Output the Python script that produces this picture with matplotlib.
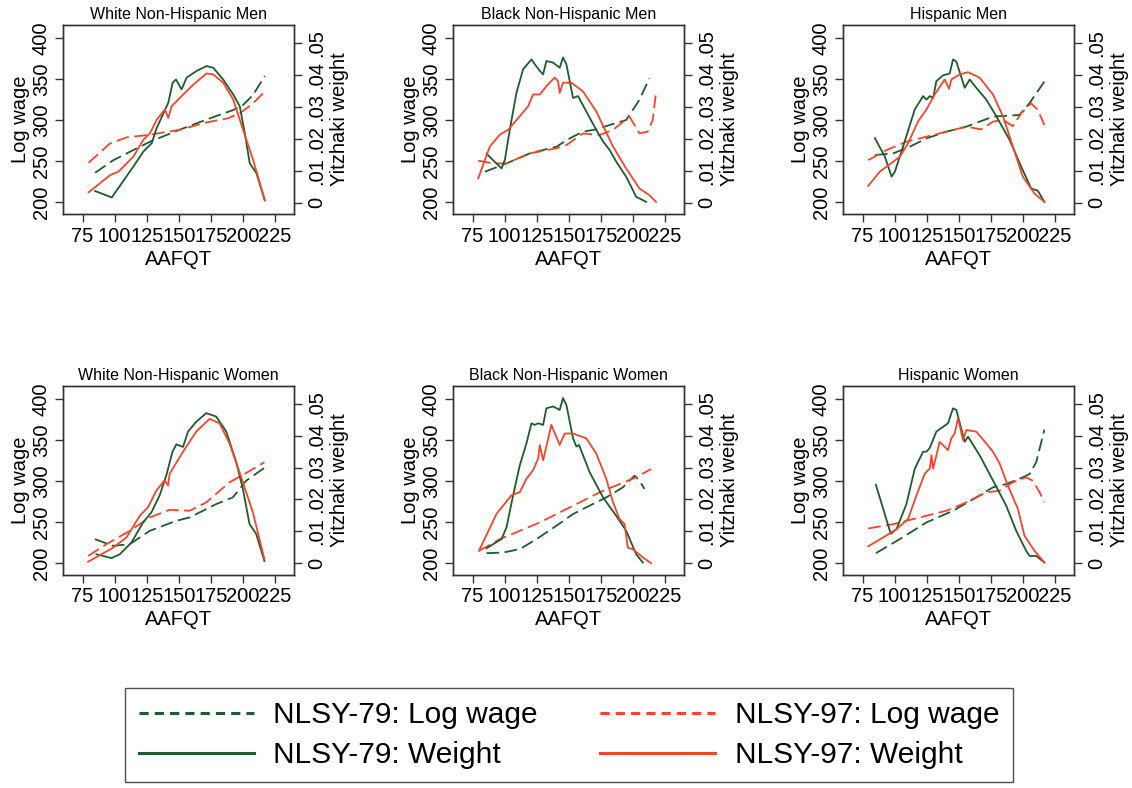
import matplotlib.pyplot as plt
from matplotlib.lines import Line2D

plt.rcParams['font.family'] = ['Liberation Sans', 'DejaVu Sans']

green = '#1d5c2c'
red = '#f2462a'
dash = (0, (7, 3))

titles = ["White Non-Hispanic Men", "Black Non-Hispanic Men", "Hispanic Men",
          "White Non-Hispanic Women", "Black Non-Hispanic Women", "Hispanic Women"]

# (AAFQT, value) pairs; wage -> left axis, weight -> right axis
# White Non-Hispanic Men
wm_wage79 = ([84.8, 99.1, 114.6, 127.6, 150, 174.2, 192.4, 200.1, 207.9, 217],
             [236.2, 251.6, 263.8, 274, 288.2, 302.4, 312.6, 318.7, 330.9, 354])
wm_wage97 = ([79.7, 96.5, 109.5, 125.5, 150, 172, 188.2, 197.5, 207.9, 217],
             [248.4, 272, 279.3, 282.1, 288.2, 297.6, 302.4, 308.5, 320.7, 335])
wm_wt79 = ([84.8, 97.8, 114.6, 122.4, 128.9, 132.8, 141.8, 145.2, 147.8, 152.2, 156.1, 163.9, 171.6,
            176.8, 184.6, 192.4, 197.5, 201.4, 205.3, 210.5, 217],
           [.0036, .0016, .0113, .016, .0186, .0234, .0313, .0376, .0386, .0355, .0392, .0413, .0428,
            .0423, .0386, .0339, .0302, .0218, .0123, .0092, .0007])
wm_wt97 = ([79.7, 96.5, 103, 114.6, 122.4, 127.6, 132.8, 139.2, 141.8, 144.4, 152.2, 161.3, 171.6,
            176.8, 184.6, 192.4, 200.1, 207.9, 217],
           [.0032, .0086, .0097, .0144, .0197, .0218, .026, .0292, .0265, .0302, .0334, .037, .0405,
            .0402, .0376, .0323, .0228, .0134, .0007])

# Black Non-Hispanic Men
bm_wage79 = ([84.6, 101.5, 119.6, 140.3, 150.7, 161, 171.4, 181.8, 194.7, 205, 212.8],
             [237.4, 247.6, 259.8, 267.9, 278, 286.2, 289, 294.3, 300.4, 324.8, 351.2])
bm_wage97 = ([79.4, 91.1, 101.5, 119.6, 140.3, 148.1, 161, 173.9, 184.3, 197.3, 205.1, 211.5, 215.4, 218],
             [250.8, 247.6, 247.6, 259.8, 265.9, 269.9, 284.1, 282.1, 288.2, 304.5, 284.1, 286.2, 300.4, 335])
bm_wt79 = ([85.9, 97.6, 100.2, 104, 109.2, 114.4, 120.9, 123.5, 127.4, 130, 132.5, 137.7, 142.9, 145.5,
            148.1, 153.3, 157.2, 163.6, 171.4, 176.6, 181.8, 187, 194.7, 202.5, 210.3],
           [.0153, .0107, .0134, .0228, .0344, .0418, .0449, .0434, .0413, .0402, .0444, .0439, .0423, .0455,
            .0434, .0328, .0334, .0286, .0228, .0192, .0165, .0128, .0081, .0018, .0002])
bm_wt97 = ([79.4, 88.5, 96.3, 102.7, 111.8, 118.3, 122.2, 127.4, 132.5, 139, 141.6, 142.9, 145.5, 152,
            161, 171.4, 184.4, 194.7, 205.1, 212.8, 218],
           [.0076, .0176, .0213, .0228, .0271, .0302, .0339, .0339, .0365, .0392, .0381, .0344, .0376, .0376,
            .0349, .0286, .0176, .0107, .0044, .0023, .0002])

# Hispanic Men
hm_wage79 = ([84.6, 98.9, 111.8, 124.8, 140.3, 155.9, 166.2, 176.6, 184.4, 197.3, 205, 216.7],
             [257.7, 259.8, 267.9, 278, 286.2, 292.3, 298.4, 304.5, 305.3, 306.5, 320.7, 347.2])
hm_wage97 = ([79.4, 93.7, 109.2, 124.8, 140.3, 155.9, 167.5, 176.6, 184.4, 192.1, 198.6, 206.4, 211.6, 216.7],
             [251.6, 263.8, 274, 280.1, 286.2, 292.3, 289, 298.4, 300.4, 293.1, 308.5, 320.7, 312.6, 294.3])
hm_wt79 = ([84.6, 92.4, 97.6, 100.2, 106.6, 115.7, 122.2, 124.8, 127.4, 130, 132.5, 137.7, 142.9, 145.5,
            148.1, 154.6, 158.5, 163.6, 171.4, 179.2, 189.5, 198.6, 206.4, 211.6, 216.7],
           [.0202, .0144, .0081, .0097, .0176, .0292, .0334, .0323, .0334, .0328, .0381, .0399, .0405, .0449,
            .0442, .036, .0386, .036, .0323, .0271, .0197, .0113, .0044, .0037, .0002])
hm_wt97 = ([79.4, 88.5, 98.9, 104.1, 110.5, 118.3, 124.8, 131.2, 139, 142.4, 144.2, 150.7, 157.2, 166.2,
            176.6, 184.4, 192.1, 199.9, 209, 216.7],
           [.0052, .0097, .0128, .0144, .0186, .0255, .0292, .0339, .0386, .0357, .0386, .0402, .0409, .0392,
            .0339, .0271, .0176, .0081, .0028, .0002])

# White Non-Hispanic Women
wf_wage79 = ([84.6, 98.9, 111.8, 127.4, 148.1, 158.5, 179.2, 192.1, 202.5, 215.4, 218],
             [229.3, 221.1, 223.2, 239.4, 251.6, 255.7, 272, 280.1, 300.4, 314.6, 316.7])
wf_wage97 = ([79.4, 93.7, 111.8, 127.4, 142.9, 158.5, 171.4, 189.5, 202.5, 216.7],
             [208.9, 223.2, 239.4, 255.7, 265, 263.8, 274, 298.4, 309.8, 322.8])
wf_wt79 = ([85.9, 97.6, 104, 113.1, 122.2, 128.7, 135.1, 140.3, 145, 148.1, 153.3, 157.2, 163.6, 171.4,
            179.2, 187, 194.7, 199.9, 205.1, 210.3, 216.7],
           [.0028, .0016, .0028, .0065, .0128, .016, .0213, .0276, .0349, .0373, .0365, .0413, .0444, .0471,
            .046, .0413, .0318, .0234, .0123, .0092, .0007])
wf_wt97 = ([79.4, 98.9, 109.2, 119.6, 126.1, 132.5, 139, 141.6, 142.9, 153.3, 163.6, 174, 181.8, 189.5,
            197.3, 207.7, 216.7],
           [.0005, .0049, .0081, .0149, .0176, .0228, .026, .0244, .0281, .035, .0413, .0453, .0439, .0376,
            .0286, .016, .0013])

# Black Non-Hispanic Women
bf_wage79 = ([85.9, 98.9, 111.8, 124.8, 140.3, 153.3, 166.2, 179.2, 192.1, 201.2, 205.1, 209],
             [212.2, 213, 217.1, 229.3, 245.5, 259.8, 270, 280.1, 292.3, 306.5, 300.4, 290.3])
bf_wage97 = ([80, 96.3, 111.8, 127.4, 142.9, 158.5, 174, 189.5, 202.5, 214.1],
             [215, 229.3, 239.4, 249.6, 261.8, 274, 286.2, 296.3, 304.5, 314.6])
bf_wt79 = ([85.9, 97.6, 101.5, 106.6, 111.8, 117, 120.9, 123.5, 126.1, 130, 132.5, 137.7, 142.9, 145.5,
            148.1, 153.3, 155.9, 158, 166.2, 176.6, 186.9, 194.7, 202.5, 207.7],
           [.0047, .0076, .0113, .0213, .0307, .0376, .0439, .0434, .0439, .0434, .0486, .0492, .0481, .0518,
            .0497, .0392, .0366, .0371, .0286, .0207, .0149, .0102, .0028, .0002])
bf_wt97 = ([80, 93.7, 105.3, 111.8, 117, 122.2, 126.1, 127.4, 130, 136.4, 142.9, 146.8, 153.3, 163.6,
            171.4, 179.2, 184.4, 189.5, 193.4, 196, 199.9, 207.7, 214.1],
           [.0039, .0155, .0213, .0223, .0265, .0292, .0328, .0371, .0323, .0434, .0371, .0407, .0407, .0392,
            .0344, .0265, .0192, .0139, .0123, .0049, .0044, .0018, 0])

# Hispanic Women
hf_wage79 = ([85.4, 104, 124.8, 145.5, 163.6, 176.6, 186.9, 199.9, 205.1, 210.3, 216.7],
             [212.2, 229.3, 249.6, 263.8, 280.1, 292.3, 296.3, 304.5, 308.5, 322.8, 362.6])
hf_wage97 = ([79.4, 98.9, 119.6, 140.3, 155.9, 171.4, 181.8, 192.1, 202.5, 207.7, 213, 216.7],
             [242.3, 247.5, 255.7, 263.8, 274, 286.2, 288.2, 298.4, 304.5, 300.4, 286.2, 274])
hf_wt79 = ([85.4, 97, 101.5, 109.2, 115.7, 122.2, 124.8, 127.4, 132.5, 141.6, 145.5, 148.1, 154.6, 157.2,
            166.2, 176.6, 186.9, 194.7, 202.5, 205.1, 210.3, 216.7],
           [.0246, .0092, .0107, .0186, .0297, .035, .035, .0362, .0413, .0439, .0486, .0481, .0381, .0397,
            .0339, .026, .0181, .0102, .0039, .0023, .0023, .0002])
hf_wt97 = ([79.4, 91.1, 101.5, 110.5, 117, 123.5, 127.4, 128.7, 130, 135.1, 141.6, 144.2, 146.8, 149.4,
            153.3, 155.9, 163.6, 171.4, 176.6, 181.8, 188.2, 196, 201.2, 209, 216.7],
           [.0053, .0081, .0107, .0139, .0213, .0281, .0297, .0339, .0297, .0381, .0355, .0392, .0407, .0455,
            .0386, .0418, .0413, .0376, .035, .0313, .0244, .0171, .0086, .0039, .0002])

panels = [
    (wm_wage79, wm_wage97, wm_wt79, wm_wt97),
    (bm_wage79, bm_wage97, bm_wt79, bm_wt97),
    (hm_wage79, hm_wage97, hm_wt79, hm_wt97),
    (wf_wage79, wf_wage97, wf_wt79, wf_wt97),
    (bf_wage79, bf_wage97, bf_wt79, bf_wt97),
    (hf_wage79, hf_wage97, hf_wt79, hf_wt97),
]

x_ticks = [75, 100, 125, 150, 175, 200, 225]
wage_ticks = [200, 250, 300, 350, 400]
wt_ticks = [0, .01, .02, .03, .04, .05]
wt_labels = ["0", ".01", ".02", ".03", ".04", ".05"]

W, H = 1132, 788
fig = plt.figure(figsize=(W / 100, H / 100), dpi=100)
lefts = [63.3, 453.3, 843.3]
tops = [25, 385.7]
aw, ah = 231, 189

spine_c = '#333333'
lw = 1.3

for i, (wage79, wage97, wt79, wt97) in enumerate(panels):
    r, c = divmod(i, 3)
    ax = fig.add_axes([lefts[c] / W, 1 - (tops[r] + ah) / H, aw / W, ah / H])
    ax2 = ax.twinx()

    ax.plot(*wage79, color=green, lw=lw, ls=dash)
    ax.plot(*wage97, color=red, lw=lw, ls=dash)
    ax2.plot(*wt79, color=green, lw=lw)
    ax2.plot(*wt97, color=red, lw=lw)

    ax.set_xlim(60, 240)
    ax.set_ylim(186, 416)
    ax2.set_ylim(-0.0036, 0.0557)
    ax.set_xticks(x_ticks)
    ax.set_yticks(wage_ticks)
    ax2.set_yticks(wt_ticks)
    ax2.set_yticklabels(wt_labels)

    for a in (ax, ax2):
        for s in a.spines.values():
            s.set_color(spine_c)
            s.set_linewidth(1.0)
        a.tick_params(length=6, width=1, color=spine_c, labelsize=14.5, pad=3)
    ax.tick_params(axis='y', labelrotation=90)
    ax2.tick_params(axis='y', labelrotation=90)
    for t in ax.get_yticklabels() + ax2.get_yticklabels():
        t.set_va('center')

    ax.set_title(titles[i], fontsize=11.5, pad=4)
    ax.set_xlabel("AAFQT", fontsize=14.5, labelpad=3)
    ax.set_ylabel("Log wage", fontsize=14.5, labelpad=1)
    ax2.set_ylabel("Yitzhaki weight", fontsize=14.5, labelpad=3)

handles = [
    Line2D([], [], color=green, lw=2.2, ls=(0, (3, 2))),
    Line2D([], [], color=green, lw=2.2),
    Line2D([], [], color=red, lw=2.2, ls=(0, (3, 2))),
    Line2D([], [], color=red, lw=2.2),
]
labels = ["NLSY-79: Log wage", "NLSY-79: Weight", "NLSY-97: Log wage", "NLSY-97: Weight"]
leg = fig.legend(handles, labels, ncol=2, loc='center', bbox_to_anchor=(569 / W, 1 - 735 / H),
                 fontsize=21.5, handlelength=3.85, columnspacing=2.1, frameon=True, fancybox=False,
                 edgecolor='#222222', borderpad=0.45, labelspacing=0.4, handletextpad=0.65)
leg.get_frame().set_linewidth(1.0)

fig.savefig('out.png', dpi=100)
